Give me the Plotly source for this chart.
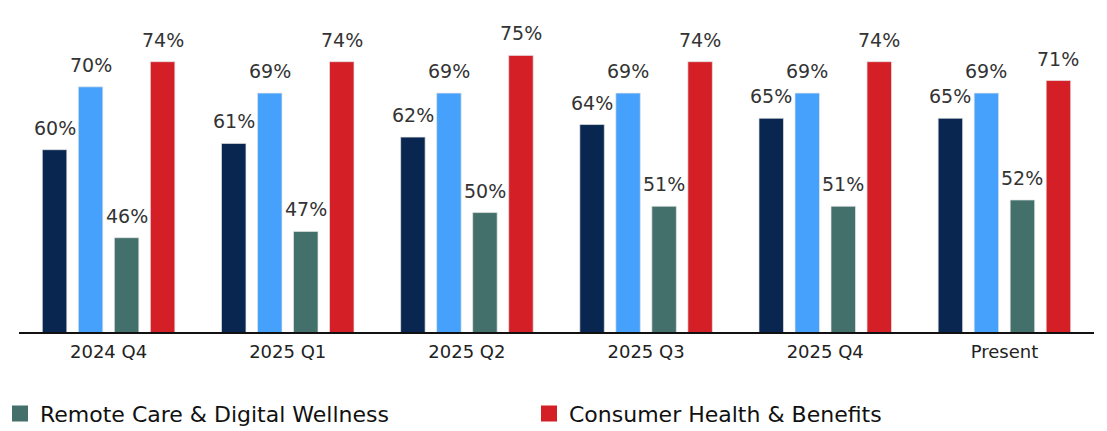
import plotly.graph_objects as go

categories = ["2024 Q4", "2025 Q1", "2025 Q2", "2025 Q3", "2025 Q4", "Present"]
series_names = ["Hospital & Clinical Services", "Pharma & Life Sciences",
                "Remote Care & Digital Wellness", "Consumer Health & Benefits"]
navy_vals = [60, 61, 62, 64, 65, 65]
blue_vals = [70, 69, 69, 69, 69, 69]
teal_vals = [46, 47, 50, 51, 51, 52]
red_vals = [74, 74, 75, 74, 74, 71]
legend_shown = [False, False, True, True]

colors = ["#08264f", "#45a1fb", "#44706b", "#d41f27"]
all_vals = [navy_vals, blue_vals, teal_vals, red_vals]

BARGAP = 0.196
BARGROUPGAP = 0.32
FONT = "DejaVu Sans"

fig = go.Figure()
for name, vals, col in zip(series_names, all_vals, colors):
    fig.add_trace(go.Bar(
        x=categories, y=vals, name=name, marker_color=col,
        marker_line=dict(color="rgba(230,230,230,0.7)", width=1),
        showlegend=False, hoverinfo="x+y",
    ))

# legend entries (square swatches)
for name, col, show in zip(series_names, colors, legend_shown):
    if show:
        fig.add_trace(go.Scatter(
            x=[None], y=[None], mode="markers", name=name,
            marker=dict(symbol="square", size=20, color=col),
            showlegend=True,
        ))

# value labels
n = len(all_vals)
slot = (1 - BARGAP) / n
for k, vals in enumerate(all_vals):
    off = (k - (n - 1) / 2) * slot
    for i, v in enumerate(vals):
        fig.add_annotation(
            x=i + off, y=v, text=f"{v}%", showarrow=False,
            yanchor="bottom", xanchor="center", yshift=9,
            font=dict(family=FONT, size=19, color="#333333"),
        )

fig.update_layout(
    width=1107, height=431,
    margin=dict(l=19, r=13, t=20, b=99),
    paper_bgcolor="white", plot_bgcolor="white",
    barmode="group", bargap=BARGAP, bargroupgap=BARGROUPGAP,
    font=dict(family=FONT, size=18, color="#222222"),
    legend=dict(
        orientation="h", xref="container", yref="container",
        x=0.0, xanchor="left", y=0.04, yanchor="middle",
        font=dict(family=FONT, size=22, color="#111111"),
        entrywidth=484, entrywidthmode="pixels",
        itemsizing="trace", bgcolor="rgba(0,0,0,0)",
    ),
    showlegend=True,
)
fig.update_xaxes(
    type="category", showline=True, linecolor="#111111", linewidth=2,
    showgrid=False, ticks="outside", ticklen=2, tickcolor="rgba(0,0,0,0)",
    tickfont=dict(family=FONT, size=18, color="#222222"),
    range=[-0.5, len(categories) - 0.5],
)
fig.update_yaxes(
    range=[31, 80.63], visible=False, showgrid=False, zeroline=False,
)

fig.write_html("out.html", config={"displayModeBar": False},
               post_script="document.body.style.margin='0';")
